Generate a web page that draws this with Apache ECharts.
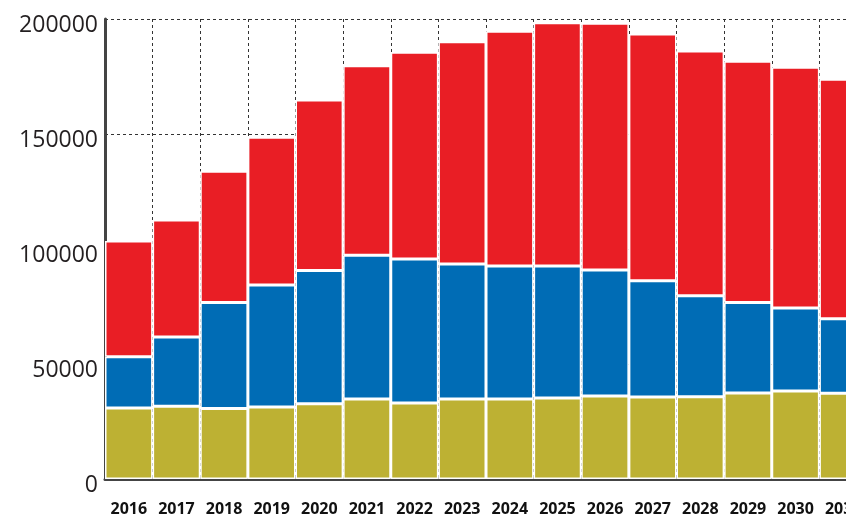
<!DOCTYPE html>
<html>
<head>
<meta charset="utf-8">
<script src="https://cdn.jsdelivr.net/npm/echarts@6/dist/echarts.min.js"></script>
<style>
    html, body { margin: 0; padding: 0; background: #fff; }
    #main { width: 846px; height: 514px; }
</style>
</head>
<body>
<div id="main"></div>
<script>
// categories
var years = ['2016','2017','2018','2019','2020','2021','2022','2023','2024','2025','2026','2027','2028','2029','2030','2031'];
// stacked series values, bottom to top
var olive = [30900, 31600, 30700, 31300, 32700, 34800, 33000, 34800, 34800, 35200, 36100, 35700, 35800, 37400, 38300, 37300];
var blue  = [22300, 30100, 46000, 53100, 57900, 62500, 62700, 58700, 57800, 57400, 54800, 50500, 43900, 39300, 36100, 32400];
var red   = [50300, 50900, 57100, 64200, 74200, 82400, 89800, 96600, 102100, 105800, 107200, 107300, 106400, 104900, 104600, 104100];

var chart = echarts.init(document.getElementById('main'));

var dash = [3, 3];

function barSeries(name, data, color) {
    return {
        name: name,
        type: 'bar',
        stack: 'total',
        barCategoryGap: 0,
        data: data,
        itemStyle: {
            color: color,
            borderColor: '#ffffff',
            borderWidth: 1.5
        }
    };
}

var option = {
    animation: false,
    grid: {
        left: 105,
        width: 762,
        top: 19,
        height: 460,
        containLabel: false,
        outerBoundsMode: 'none'
    },
    xAxis: {
        type: 'category',
        data: years,
        axisLine: { lineStyle: { color: '#444', width: 3 } },
        axisTick: { show: false },
        axisLabel: {
            color: '#111',
            fontFamily: 'Open Sans',
            fontWeight: 'bold',
            fontSize: 16,
            margin: 22
        },
        splitLine: {
            show: true,
            lineStyle: { color: '#333', type: dash, width: 1 }
        }
    },
    yAxis: {
        type: 'value',
        min: 0,
        max: 200000,
        interval: 50000,
        axisLine: { show: true, lineStyle: { color: '#444', width: 3 } },
        axisTick: { show: false },
        axisLabel: {
            color: '#231f20',
            fontFamily: 'Open Sans',
            fontSize: 23,
            margin: 7,
            verticalAlign: 'top',
            lineHeight: 12,
            formatter: function (v) { return String(v); }
        },
        splitLine: {
            show: true,
            lineStyle: { color: '#333', type: dash, width: 1 }
        }
    },
    series: [
        barSeries('olive', olive, '#bdb133'),
        barSeries('blue', blue, '#006cb5'),
        barSeries('red', red, '#e91e25')
    ]
};

chart.setOption(option);
</script>
</body>
</html>
